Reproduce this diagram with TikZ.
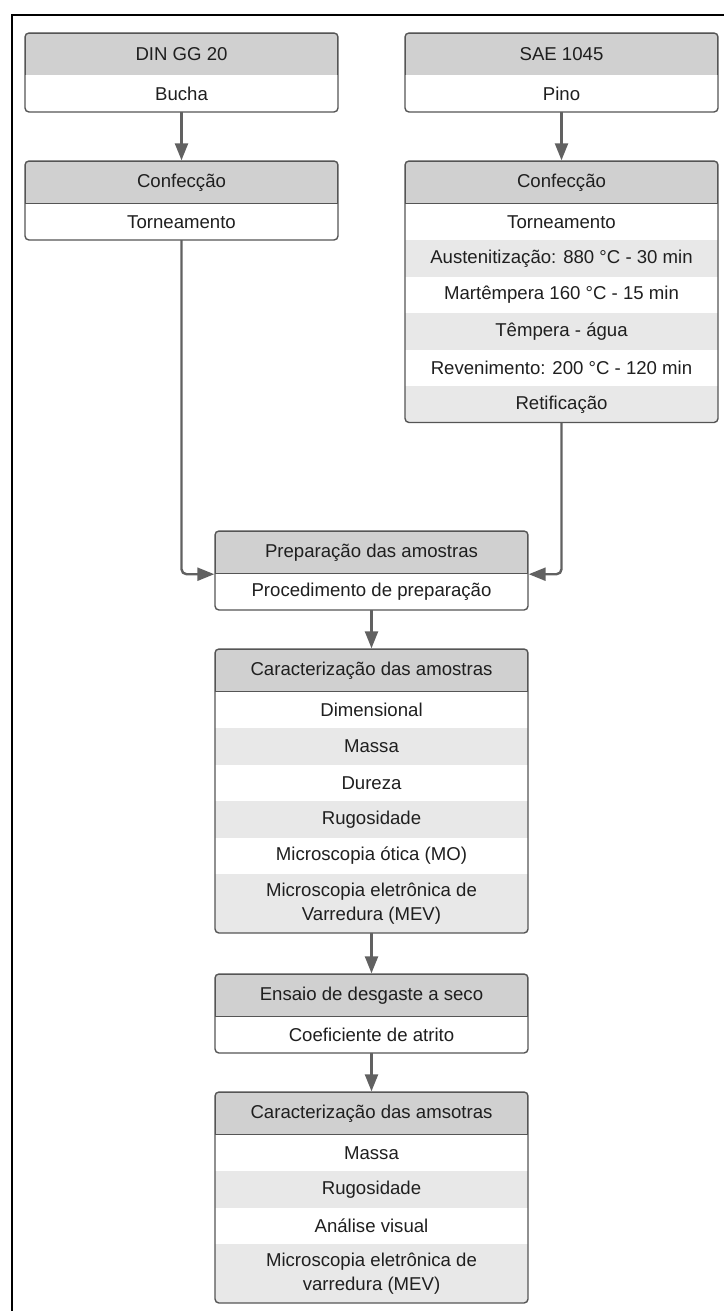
\documentclass[tikz,border=0pt]{standalone}
\usepackage{fontspec}
\setmainfont{Liberation Sans}
\usetikzlibrary{arrows.meta}
\definecolor{cabecalho}{HTML}{D0D0D0}
\definecolor{faixa}{HTML}{E8E8E8}
\definecolor{borda}{HTML}{555555}
\definecolor{seta}{HTML}{616161}

\begin{document}
\begin{tikzpicture}[x=1pt, y=-1pt,
	texto/.style={font=\fontsize{18.6}{23.5}\selectfont, text=black!88, align=center, inner sep=0pt, minimum width=313},
	cabeca/.style={texto, fill=cabecalho, draw=borda, line width=1.4pt, minimum height=42.5},
	linha/.style={texto, fill=white, minimum height=36.5},
	linhacinza/.style={linha, fill=faixa},
	caixa/.style={draw=borda, line width=1.4pt, rounded corners=4pt},
	conector/.style={draw=seta, line width=2.4pt, -{Triangle[length=17pt,width=13pt]}, rounded corners=5pt}]
	\useasboundingbox (0,0) rectangle (723,1311);
	\draw[line width=2pt] (12,1330) -- (12,15) -- (740,15);

	% DIN GG 20
	\begin{scope}
		\clip[rounded corners=4pt] (25,33) rectangle (338,112);
		\node[cabeca] (dinCab) at (181.5,54.25) {DIN GG 20};
		\node[linha] (dinL1) at (181.5,93.75) {Bucha};
	\end{scope}
	\draw[caixa] (25,33) rectangle (338,112);

	% SAE 1045
	\begin{scope}
		\clip[rounded corners=4pt] (405,33) rectangle (718,112);
		\node[cabeca] (saeCab) at (561.5,54.25) {SAE 1045};
		\node[linha] (saeL1) at (561.5,93.75) {Pino};
	\end{scope}
	\draw[caixa] (405,33) rectangle (718,112);

	% Confeccao bucha
	\begin{scope}
		\clip[rounded corners=4pt] (25,161) rectangle (338,240);
		\node[cabeca] (confLCab) at (181.5,182.25) {Confecção};
		\node[linha] (confLL1) at (181.5,221.75) {Torneamento};
	\end{scope}
	\draw[caixa] (25,161) rectangle (338,240);

	% Confeccao pino
	\begin{scope}
		\clip[rounded corners=4pt] (405,161) rectangle (718,422.5);
		\node[cabeca] (confRCab) at (561.5,182.25) {Confecção};
		\node[linha] (confRL1) at (561.5,221.75) {Torneamento};
		\node[linhacinza] (confRL2) at (561.5,258.25) {Austenitização: 880 °C - 30 min};
		\node[linha] (confRL3) at (561.5,294.75) {Martêmpera 160 °C - 15 min};
		\node[linhacinza] (confRL4) at (561.5,331.25) {Têmpera - água};
		\node[linha] (confRL5) at (561.5,367.75) {Revenimento: 200 °C - 120 min};
		\node[linhacinza] (confRL6) at (561.5,404.25) {Retificação};
	\end{scope}
	\draw[caixa] (405,161) rectangle (718,422.5);

	% Preparacao
	\begin{scope}
		\clip[rounded corners=4pt] (215,531) rectangle (528,610);
		\node[cabeca] (prepCab) at (371.5,552.25) {Preparação das amostras};
		\node[linha] (prepL1) at (371.5,591.75) {Procedimento de preparação};
	\end{scope}
	\draw[caixa] (215,531) rectangle (528,610);

	% Caracterizacao antes do ensaio
	\begin{scope}
		\clip[rounded corners=4pt] (215,649) rectangle (528,933);
		\node[cabeca] (carac1Cab) at (371.5,670.25) {Caracterização das amostras};
		\node[linha] (carac1L1) at (371.5,709.75) {Dimensional};
		\node[linhacinza] (carac1L2) at (371.5,746.25) {Massa};
		\node[linha] (carac1L3) at (371.5,782.75) {Dureza};
		\node[linhacinza] (carac1L4) at (371.5,819.25) {Rugosidade};
		\node[linha] (carac1L5) at (371.5,855.75) {Microscopia ótica (MO)};
		\node[linhacinza, minimum height=59] (carac1L6) at (371.5,903.5) {Microscopia eletrônica de\\Varredura (MEV)};
	\end{scope}
	\draw[caixa] (215,649) rectangle (528,933);

	% Ensaio
	\begin{scope}
		\clip[rounded corners=4pt] (215,974) rectangle (528,1053);
		\node[cabeca] (ensaioCab) at (371.5,995.25) {Ensaio de desgaste a seco};
		\node[linha] (ensaioL1) at (371.5,1034.75) {Coeficiente de atrito};
	\end{scope}
	\draw[caixa] (215,974) rectangle (528,1053);

	% Caracterizacao depois do ensaio
	\begin{scope}
		\clip[rounded corners=4pt] (215,1092) rectangle (528,1303);
		\node[cabeca] (carac2Cab) at (371.5,1113.25) {Caracterização das amsotras};
		\node[linha] (carac2L1) at (371.5,1152.75) {Massa};
		\node[linhacinza] (carac2L2) at (371.5,1189.25) {Rugosidade};
		\node[linha] (carac2L3) at (371.5,1225.75) {Análise visual};
		\node[linhacinza, minimum height=59] (carac2L4) at (371.5,1273.5) {Microscopia eletrônica de\\varredura (MEV)};
	\end{scope}
	\draw[caixa] (215,1092) rectangle (528,1303);

	\draw[conector] (dinL1.south) -- (confLCab.north);
	\draw[conector] (saeL1.south) -- (confRCab.north);
	\draw[conector] (confLL1.south) |- (prepCab.south west);
	\draw[conector] (confRL6.south) |- (prepCab.south east);
	\draw[conector] (prepL1.south) -- (carac1Cab.north);
	\draw[conector] (carac1L6.south) -- (ensaioCab.north);
	\draw[conector] (ensaioL1.south) -- (carac2Cab.north);
\end{tikzpicture}
\end{document}
